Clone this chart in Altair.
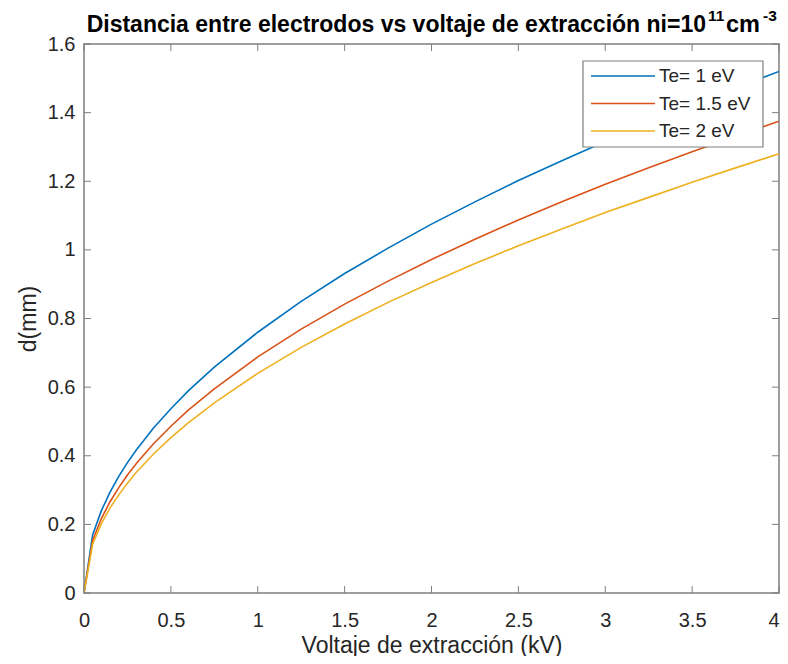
import altair as alt
import pandas as pd

# ---- data ----
voltage = [0, 0.05, 0.1, 0.15, 0.2, 0.25, 0.3, 0.4, 0.5, 0.6, 0.75, 1.0, 1.25,
           1.5, 1.75, 2.0, 2.25, 2.5, 2.75, 3.0, 3.25, 3.5, 3.75, 4.0]
d_te1 = [0, 0.170, 0.240, 0.294, 0.340, 0.380, 0.416, 0.481, 0.537, 0.589,
         0.658, 0.760, 0.850, 0.931, 1.005, 1.075, 1.140, 1.202, 1.260, 1.316,
         1.370, 1.422, 1.472, 1.520]
d_te15 = [0, 0.154, 0.217, 0.266, 0.307, 0.344, 0.377, 0.435, 0.486, 0.533,
          0.595, 0.688, 0.769, 0.842, 0.909, 0.972, 1.031, 1.087, 1.140, 1.191,
          1.239, 1.286, 1.331, 1.375]
d_te2 = [0, 0.143, 0.202, 0.248, 0.286, 0.320, 0.351, 0.405, 0.453, 0.496,
         0.554, 0.640, 0.716, 0.784, 0.847, 0.905, 0.960, 1.012, 1.061, 1.109,
         1.153, 1.197, 1.239, 1.280]
series_names = ["Te= 1 eV", "Te= 1.5 eV", "Te= 2 eV"]
series_colors = ["#0072BD", "#D95319", "#EDB120"]
x_ticks = [0, 0.5, 1, 1.5, 2, 2.5, 3, 3.5, 4]
y_ticks = [0, 0.2, 0.4, 0.6, 0.8, 1.0, 1.2, 1.4, 1.6]
title_main = "Distancia entre electrodos vs voltaje de extracción ni=10"
title_sup1 = "11"
title_unit = "cm"
title_sup2 = "-3"
x_title = "Voltaje de extracción (kV)"
y_title = "d(mm)"

# ---- layout ----
W, H = 695, 549
FONT = "Liberation Sans"
AX = "#7f7f7f"
TXT = "#262626"
TICK = 7

rows = []
for name, vals in zip(series_names, [d_te1, d_te15, d_te2]):
    for v, d in zip(voltage, vals):
        rows.append({"V": v, "d": d, "serie": name})
df = pd.DataFrame(rows)

x_scale = alt.Scale(domain=[0, 4], nice=False, zero=False)
y_scale = alt.Scale(domain=[0, 1.6], nice=False, zero=False)

x_axis = alt.Axis(values=x_ticks, format="~g", title=x_title, domain=False,
                  ticks=False, tickSize=0, grid=False, labelFlush=False,
                  labelOverlap=False, labelPadding=17, labelFontSize=20,
                  labelAlign={"condition": {"test": "datum.value >= 4", "value": "right"},
                              "value": "center"},
                  labelFont=FONT, labelColor=TXT, titleFont=FONT,
                  titleFontSize=23, titleFontWeight="normal", titleColor=TXT,
                  titleY=59, titleBaseline="alphabetic")
y_axis = alt.Axis(values=y_ticks, format="~g", title=y_title, domain=False,
                  ticks=False, tickSize=0, grid=False, labelFlush=False,
                  labelOverlap=False, labelPadding=9, labelFontSize=20,
                  labelFont=FONT, labelColor=TXT, titleFont=FONT,
                  titleFontSize=23, titleFontWeight="normal", titleColor=TXT,
                  titleAngle=270, titleX=-56, titleY=H / 2,
                  titleBaseline="middle", titleAlign="center")

X = alt.X("V:Q", scale=x_scale, axis=x_axis)
Y = alt.Y("d:Q", scale=y_scale, axis=y_axis)

lines = alt.Chart(df).mark_line(strokeWidth=1.6, clip=True).encode(
    x=X, y=Y,
    color=alt.Color("serie:N", scale=alt.Scale(domain=series_names, range=series_colors), legend=None),
    detail="serie:N",
)

xt = pd.DataFrame({"V": x_ticks})
yt = pd.DataFrame({"d": y_ticks})
ticks_bottom = alt.Chart(xt).mark_rule(color=AX, strokeWidth=1).encode(
    x=X, y=alt.value(H), y2=alt.value(H - TICK))
ticks_top = alt.Chart(xt).mark_rule(color=AX, strokeWidth=1).encode(
    x=X, y=alt.value(0), y2=alt.value(TICK))
ticks_left = alt.Chart(yt).mark_rule(color=AX, strokeWidth=1).encode(
    y=Y, x=alt.value(0), x2=alt.value(TICK))
ticks_right = alt.Chart(yt).mark_rule(color=AX, strokeWidth=1).encode(
    y=Y, x=alt.value(W), x2=alt.value(W - TICK))

one = pd.DataFrame({"k": [0]})


def txt(s, x, y, size, align="left", weight="bold"):
    return alt.Chart(pd.DataFrame({"t": [s]})).mark_text(
        font=FONT, fontSize=size, fontWeight=weight, color="black",
        align=align, baseline="alphabetic").encode(
        text="t:N", x=alt.value(x), y=alt.value(y))


title_layers = [
    txt(title_main, 622, -12, 23, align="right"),
    txt(title_sup1, 624, -23.5, 15.5),
    txt(title_unit, 642, -12, 23.5),
    txt(title_sup2, 679, -23.5, 15.5),
]

# legend (MATLAB style box)
LX0, LX1, LY0, LY1 = 499, 679, 17, 103
legend_box = alt.Chart(one).mark_rect(fill="white", stroke=AX, strokeWidth=1.2).encode(
    x=alt.value(LX0), x2=alt.value(LX1), y=alt.value(LY0), y2=alt.value(LY1))
legend_layers = [legend_box]
for i, (name, col) in enumerate(zip(series_names, series_colors)):
    yy = 32 + i * 27.5
    legend_layers.append(
        alt.Chart(one).mark_rule(color=col, strokeWidth=1.6).encode(
            x=alt.value(507), x2=alt.value(571), y=alt.value(yy)))
    legend_layers.append(
        alt.Chart(pd.DataFrame({"t": [name]})).mark_text(
            font=FONT, fontSize=19, color=TXT, align="left", baseline="middle").encode(
            text="t:N", x=alt.value(575), y=alt.value(yy)))

chart = alt.layer(
    lines, ticks_bottom, ticks_top, ticks_left, ticks_right,
    *legend_layers, *title_layers
).properties(
    width=W, height=H,
    autosize=alt.AutoSizeParams(type="none"),
    padding={"left": 76, "top": 36, "right": 1, "bottom": 63},
    background="white",
).configure_view(stroke=AX, strokeWidth=1.5)

chart.save("out.html", embed_options={"renderer": "svg", "actions": False})
